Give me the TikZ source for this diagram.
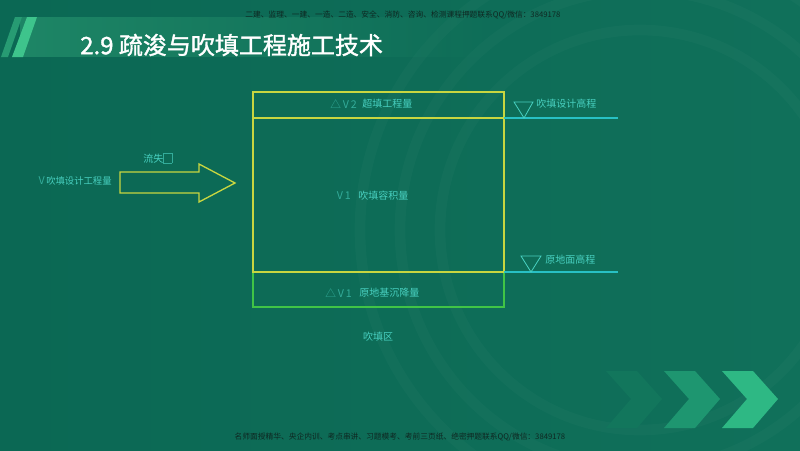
\documentclass[tikz,border=0pt]{standalone}
\usepackage{fontspec}
\newfontfamily\cjk{Noto Sans CJK SC}
\newfontfamily\cjktitle[FakeBold=1.5]{Noto Sans CJK SC}
\usetikzlibrary{fadings}
\definecolor{bg}{RGB}{11,104,84}
\definecolor{bgr}{RGB}{16,112,90}
\definecolor{bandc}{RGB}{30,134,102}
\definecolor{txt}{RGB}{72,208,192}
\definecolor{yel}{RGB}{200,214,64}
\definecolor{grn}{RGB}{64,196,70}
\definecolor{cya}{RGB}{40,192,196}
\definecolor{wm}{RGB}{14,40,34}
\definecolor{chevA}{RGB}{46,184,132}
\definecolor{chevB}{RGB}{30,150,112}
\definecolor{chevC}{RGB}{18,118,92}
\definecolor{stripeA}{RGB}{62,196,140}
\tikzset{
  lbl/.style={font=\cjk\fontsize{7.5pt}{9pt}\selectfont, text=txt, inner sep=0pt},
  pre/.style={font=\cjk\fontsize{8pt}{9pt}\selectfont, text=txt!65!bg, inner sep=0pt, anchor=east},
  wmark/.style={font=\cjk\fontsize{5.8pt}{7pt}\selectfont, text=wm, inner sep=0pt},
  ttl/.style={font=\cjktitle\fontsize{18pt}{21pt}\selectfont, text=white, inner sep=0pt},
  boxline/.style={line width=0.9pt},
  levelmark/.style={draw=txt, line width=0.6pt},
}
\begin{document}
\begin{tikzpicture}[x=0.75pt,y=-0.75pt]
\useasboundingbox (0,0) rectangle (800,450);
% background
\shade[left color=bg, right color=bgr] (0,0) rectangle (800,450);
\begin{scope}
\clip (0,0) rectangle (800,450);
\foreach \r in {200,240,280}
  \draw[white, opacity=0.025, line width=8pt] (640,230) circle (\r);
\end{scope}
% title band
\fill[bandc, path fading=east] (20,17) rectangle (500,57);
\fill[stripeA!55!bg] (15,17) -- (22,17) -- (8,57) -- (1,57) -- cycle;
\fill[stripeA] (27,17) -- (37,17) -- (23,57) -- (12,57) -- cycle;
% chevrons
\foreach \dx/\c in {-116/chevC, -58/chevB, 0/chevA}
  \fill[\c] (722+\dx,371) -- (753+\dx,371) -- (778+\dx,399) -- (753+\dx,428) -- (722+\dx,428) -- (747+\dx,399) -- cycle;
% watermarks and title
\node[wmark] (wtop) at (403,15) {二建、监理、一建、一造、二造、安全、消防、咨询、检测课程押题联系QQ/微信：3849178};
\node[wmark] (wbot) at (400,437) {名师面授精华、央企内训、考点串讲、习题模考、考前三页纸、绝密押题联系QQ/微信：3849178};
\node[ttl, anchor=west] (title) at (80,45) {2.9 疏浚与吹填工程施工技术};
% boxes
\coordinate (tl) at (253,92);
\coordinate (br) at (504,272);
\coordinate (ml) at (253,118);
\coordinate (mr) at (504,118);
\coordinate (bl) at (253,307);
\coordinate (bb) at (504,307);
\coordinate (gl) at (253,272);
\draw[grn, boxline] (gl) -- (bl) -- (bb) -- (br);
\draw[yel, boxline] (tl) rectangle (br);
\draw[yel, boxline] (ml) -- (mr);
% level lines
\coordinate (e1) at (618,118);
\coordinate (e2) at (618,272);
\draw[cya, line width=0.9pt] (mr) -- (e1);
\draw[cya, line width=0.9pt] (br) -- (e2);
\draw[levelmark] (514,102) -- (533,102) -- (524,118) -- cycle;
\draw[levelmark] (521,256) -- (541,256) -- (531,272) -- cycle;
\node[lbl, anchor=west] (hdes) at (536,104) {吹填设计高程};
\node[lbl, anchor=west] (hgr) at (545,260) {原地面高程};
% arrow
\draw[yel, line width=1pt] (120,172) -- (199,172) -- (199,164) -- (235,183) -- (199,202) -- (199,193) -- (120,193) -- cycle;
\node[lbl, anchor=west] (loss) at (143,158) {流失{\color{txt!65!bg}\setlength\fboxsep{0pt}\setlength\fboxrule{0.4pt}\fbox{\rule{0pt}{7pt}\hspace{6pt}}}};
\node[lbl, anchor=west, font=\cjk\fontsize{7pt}{9pt}\selectfont] (vin) at (46,181) {吹填设计工程量};
\node[pre] (vinp) at (45,181) {V};
% box labels
\node[lbl, anchor=west] (v2) at (362,104) {超填工程量};
\node[pre] (v2p) at (357,104) {△\,V\,2};
\node[lbl, anchor=west] (v1) at (358,196) {吹填容积量};
\node[pre] (v1p) at (351,196) {V\,1};
\node[lbl, anchor=west] (dv1) at (359,293) {原地基沉降量};
\node[pre] (dv1p) at (352,293) {△\,V\,1};
\node[lbl] (zone) at (378,337) {吹填区};
\end{tikzpicture}
\end{document}
